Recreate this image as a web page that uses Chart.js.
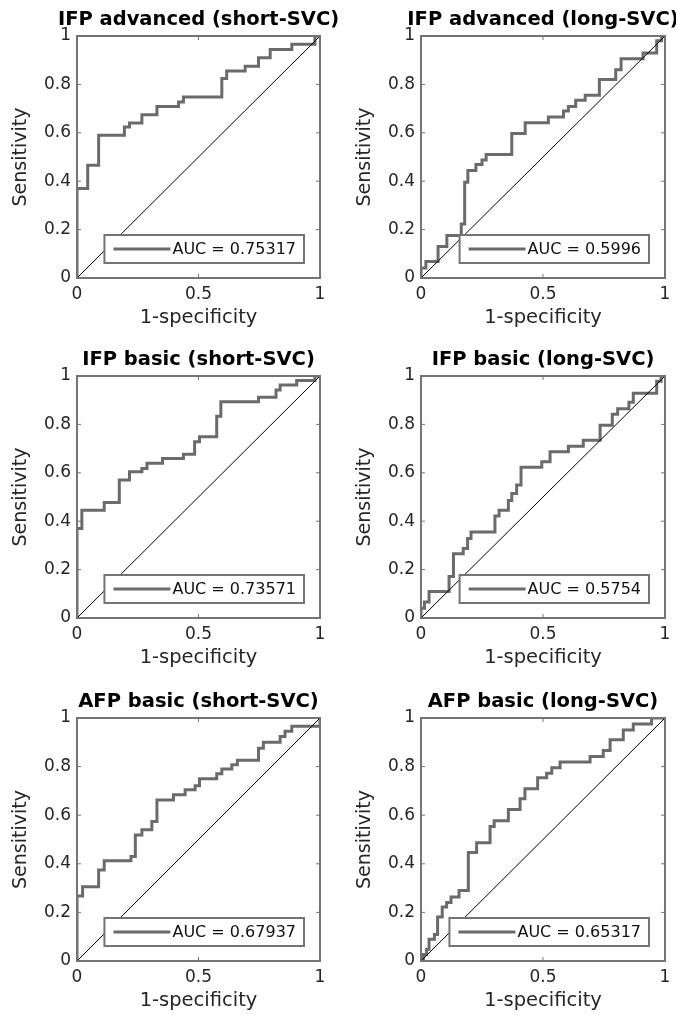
<!DOCTYPE html>
<html lang="en">
<head>
    <meta charset="UTF-8">
    <title>ROC curves</title>
    <script src="https://cdn.jsdelivr.net/npm/chart.js"></script>
    <style>
        html, body { margin: 0; padding: 0; background: #fff; overflow: hidden; }
        #page { position: relative; width: 676px; height: 1015px; overflow: hidden; }
        #page canvas { position: absolute; }
    </style>
</head>
<body>
<div id="page">
    <canvas id="c0" width="397" height="340" style="left:0px;top:0px"></canvas>
    <canvas id="c1" width="398" height="340" style="left:344px;top:0px"></canvas>
    <canvas id="c2" width="397" height="340" style="left:0px;top:340px"></canvas>
    <canvas id="c3" width="398" height="340" style="left:344px;top:340px"></canvas>
    <canvas id="c4" width="397" height="341" style="left:0px;top:682px"></canvas>
    <canvas id="c5" width="398" height="341" style="left:344px;top:682px"></canvas>
</div>
<script>
    // panel titles and legend labels
    const titles = [
        'IFP advanced (short-SVC)', 'IFP advanced (long-SVC)',
        'IFP basic (short-SVC)', 'IFP basic (long-SVC)',
        'AFP basic (short-SVC)', 'AFP basic (long-SVC)'
    ];
    const aucLabels = [
        'AUC = 0.75317', 'AUC = 0.5996',
        'AUC = 0.73571', 'AUC = 0.5754',
        'AUC = 0.67937', 'AUC = 0.65317'
    ];

    const xTickLabels = ['0', '0.5', '1'];
    const yTickLabels = ['0', '0.2', '0.4', '0.6', '0.8', '1'];

    // ROC points (1-specificity, sensitivity)
    const fpr1 = [0, 0, 0.044, 0.089, 0.195, 0.216, 0.267, 0.329, 0.418, 0.438, 0.596, 0.616, 0.692, 0.747, 0.795, 0.884, 0.979, 1];
    const tpr1 = [0, 0.37, 0.466, 0.59, 0.624, 0.64, 0.675, 0.709, 0.727, 0.748, 0.824, 0.855, 0.875, 0.91, 0.944, 0.966, 1, 1];

    const fpr2 = [0, 0, 0.02, 0.07, 0.106, 0.165, 0.179, 0.192, 0.225, 0.25, 0.267, 0.372, 0.427, 0.522, 0.584, 0.604, 0.634, 0.673, 0.731, 0.798, 0.82, 0.91, 0.966, 0.986, 1];
    const tpr2 = [0, 0.041, 0.068, 0.13, 0.176, 0.223, 0.396, 0.444, 0.469, 0.488, 0.51, 0.597, 0.642, 0.665, 0.69, 0.709, 0.734, 0.755, 0.82, 0.861, 0.906, 0.93, 0.98, 1, 1];

    const fpr3 = [0, 0, 0.02, 0.112, 0.174, 0.216, 0.267, 0.288, 0.352, 0.438, 0.484, 0.504, 0.575, 0.592, 0.747, 0.819, 0.836, 0.904, 0.979, 1];
    const tpr3 = [0, 0.37, 0.445, 0.477, 0.57, 0.604, 0.618, 0.639, 0.659, 0.677, 0.728, 0.749, 0.834, 0.894, 0.912, 0.942, 0.963, 0.981, 1, 1];

    const fpr4 = [0, 0, 0.014, 0.033, 0.115, 0.133, 0.173, 0.191, 0.205, 0.303, 0.32, 0.358, 0.372, 0.392, 0.41, 0.495, 0.529, 0.604, 0.665, 0.734, 0.784, 0.806, 0.852, 0.87, 0.966, 0.984, 1];
    const tpr4 = [0, 0.04, 0.066, 0.109, 0.172, 0.266, 0.287, 0.328, 0.355, 0.421, 0.445, 0.486, 0.514, 0.55, 0.623, 0.646, 0.687, 0.71, 0.735, 0.796, 0.842, 0.865, 0.892, 0.929, 0.978, 1, 1];

    const fpr5 = [0, 0, 0.023, 0.089, 0.112, 0.222, 0.24, 0.267, 0.308, 0.329, 0.397, 0.445, 0.486, 0.504, 0.575, 0.596, 0.637, 0.66, 0.747, 0.767, 0.836, 0.856, 0.884, 1, 1];
    const tpr5 = [0, 0.268, 0.306, 0.375, 0.413, 0.43, 0.519, 0.54, 0.574, 0.663, 0.684, 0.705, 0.721, 0.75, 0.771, 0.79, 0.808, 0.826, 0.876, 0.9, 0.924, 0.945, 0.966, 0.966, 1];

    const fpr6 = [0, 0.01, 0.023, 0.033, 0.055, 0.068, 0.087, 0.105, 0.123, 0.156, 0.194, 0.228, 0.283, 0.3, 0.358, 0.406, 0.426, 0.478, 0.515, 0.536, 0.57, 0.693, 0.747, 0.775, 0.829, 0.87, 0.945, 1];
    const tpr6 = [0, 0.027, 0.048, 0.089, 0.109, 0.181, 0.222, 0.241, 0.263, 0.29, 0.446, 0.487, 0.553, 0.577, 0.623, 0.668, 0.709, 0.754, 0.773, 0.795, 0.819, 0.842, 0.866, 0.91, 0.951, 0.975, 1, 1];

    // chance diagonal
    const chanceX = [0, 1];
    const chanceY = [0, 1];

    const fprs = [fpr1, fpr2, fpr3, fpr4, fpr5, fpr6];
    const tprs = [tpr1, tpr2, tpr3, tpr4, tpr5, tpr6];

    Chart.defaults.font.family = "'DejaVu Sans', sans-serif";
    const FRAME = '#747474';
    const CURVE = '#6b6b6b';
    const TEXT = '#262626';
    const AXIS_W = 77;

    // MATLAB-like box, inward tick marks and the AUC legend inside the axes
    const axesBox = {
        id: 'axesBox',
        afterDraw(chart) {
            const {ctx, chartArea: a} = chart;
            const xs = chart.scales.x, ys = chart.scales.y;
            ctx.save();
            ctx.strokeStyle = FRAME;
            ctx.lineWidth = 1;
            ctx.beginPath();
            xs.ticks.forEach(t => {
                const px = xs.getPixelForValue(t.value);
                ctx.moveTo(px, a.bottom); ctx.lineTo(px, a.bottom - 4);
                ctx.moveTo(px, a.top); ctx.lineTo(px, a.top + 4);
            });
            ys.ticks.forEach(t => {
                const py = ys.getPixelForValue(t.value);
                ctx.moveTo(a.left, py); ctx.lineTo(a.left + 4, py);
                ctx.moveTo(a.right, py); ctx.lineTo(a.right - 4, py);
            });
            ctx.stroke();
            ctx.lineWidth = 2;
            ctx.strokeRect(a.left, a.top, a.right - a.left, a.bottom - a.top);

            // legend
            const ds = chart.data.datasets[0];
            ctx.font = "16px 'DejaVu Sans'";
            const tw = ctx.measureText(ds.label).width;
            const w = 9 + 57 + 2 + tw + 8, h = 28;
            const bx = a.right - 16 - w, by = a.bottom - 15 - h;
            ctx.fillStyle = '#fff';
            ctx.fillRect(bx, by, w, h);
            ctx.strokeStyle = FRAME;
            ctx.lineWidth = 2;
            ctx.strokeRect(bx, by, w, h);
            ctx.strokeStyle = ds.borderColor;
            ctx.lineWidth = ds.borderWidth;
            ctx.beginPath();
            ctx.moveTo(bx + 9, by + h / 2);
            ctx.lineTo(bx + 66, by + h / 2);
            ctx.stroke();
            ctx.fillStyle = '#111';
            ctx.textBaseline = 'middle';
            ctx.fillText(ds.label, bx + 68, by + h / 2 + 1);
            ctx.restore();
        }
    };

    function drawPanel(i) {
        const roc = fprs[i].map((x, k) => ({x: x, y: tprs[i][k]}));
        const diag = chanceX.map((x, k) => ({x: x, y: chanceY[k]}));
        new Chart(document.getElementById('c' + i), {
            type: 'line',
            data: {
                datasets: [{
                    label: aucLabels[i],
                    data: roc,
                    stepped: 'before',
                    borderColor: CURVE,
                    borderWidth: 3,
                    borderJoinStyle: 'miter',
                    pointRadius: 0,
                    fill: false,
                    order: 1
                }, {
                    label: 'chance',
                    data: diag,
                    borderColor: '#000',
                    borderWidth: 1,
                    pointRadius: 0,
                    fill: false,
                    order: 0
                }]
            },
            options: {
                responsive: false,
                animation: false,
                layout: { padding: 0 },
                plugins: {
                    legend: { display: false },
                    tooltip: { enabled: false },
                    title: {
                        display: true,
                        text: titles[i],
                        color: '#000',
                        font: { size: 19.5, weight: 'bold', lineHeight: 1.2 },
                        padding: { top: 8.3, bottom: 4.3 }
                    }
                },
                scales: {
                    x: {
                        type: 'linear',
                        min: 0, max: 1,
                        grid: { display: false, drawTicks: false },
                        border: { display: false },
                        ticks: {
                            stepSize: 0.5,
                            padding: 6.5,
                            maxRotation: 0,
                            color: TEXT,
                            font: { size: 17 },
                            callback: (v, k) => xTickLabels[k]
                        },
                        title: {
                            display: true,
                            text: '1-specificity',
                            color: TEXT,
                            font: { size: 19.5 },
                            padding: { top: 0, bottom: 10 }
                        },
                        afterFit: s => { s.height = 62; }
                    },
                    y: {
                        type: 'linear',
                        min: 0, max: 1,
                        grid: { display: false, drawTicks: false },
                        border: { display: false },
                        ticks: {
                            stepSize: 0.2,
                            padding: 6,
                            color: TEXT,
                            font: { size: 17 },
                            callback: (v, k) => yTickLabels[k]
                        },
                        title: {
                            display: true,
                            text: 'Sensitivity',
                            color: TEXT,
                            font: { size: 19 },
                            padding: { top: 10, bottom: 0 }
                        },
                        afterFit: s => { s.width = AXIS_W; }
                    },
                    // empty right-hand axis, keeps the title centred over the plot
                    yRight: {
                        type: 'linear',
                        position: 'right',
                        min: 0, max: 1,
                        grid: { display: false, drawTicks: false },
                        border: { display: false },
                        ticks: { display: false },
                        afterFit: s => { s.width = AXIS_W; }
                    }
                }
            },
            plugins: [axesBox]
        });
    }

    for (let i = 0; i < 6; i++) drawPanel(i);
</script>
</body>
</html>
